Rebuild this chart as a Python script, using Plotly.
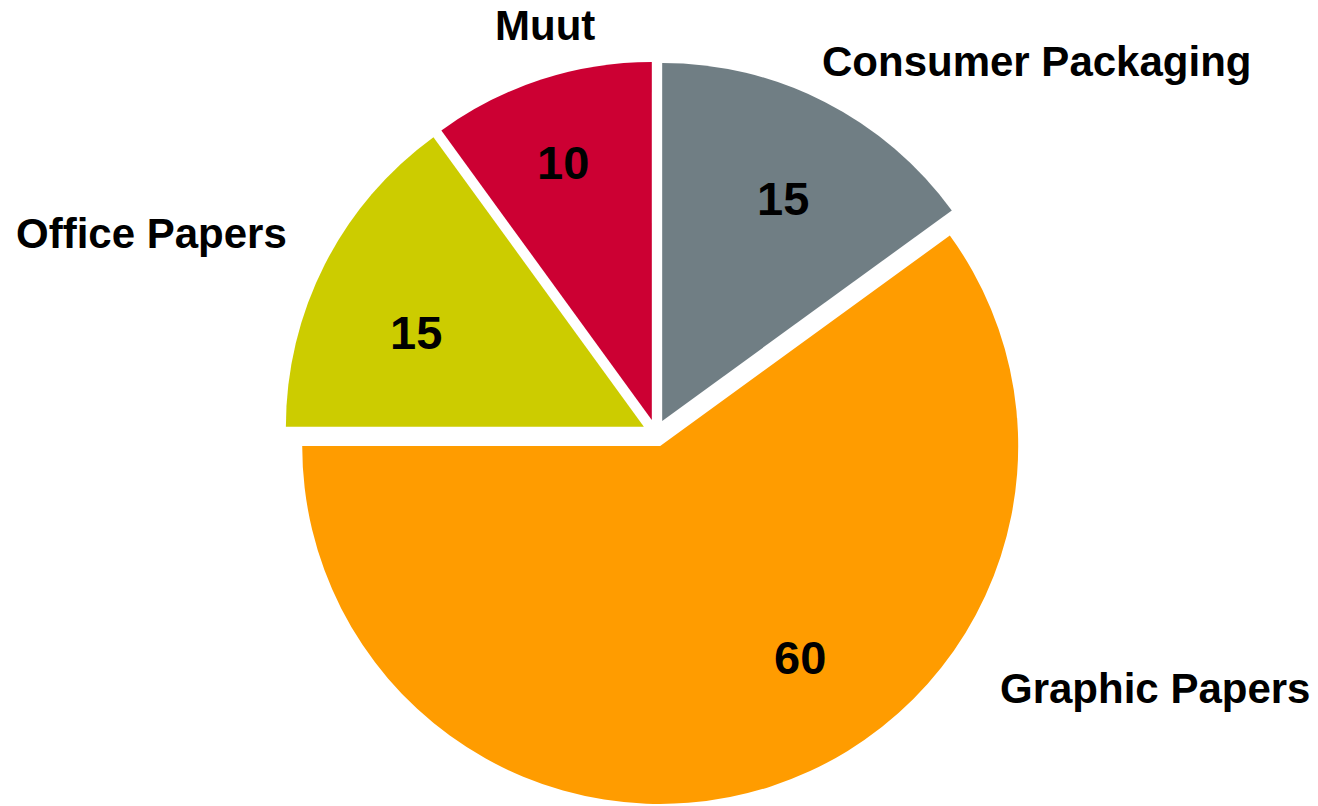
import plotly.graph_objects as go

categories = ["Consumer Packaging", "Graphic Papers", "Office Papers", "Muut"]
values = [15, 60, 15, 10]
colors = ["#707E84", "#FF9C00", "#CCCC00", "#CC0033"]

W, H = 1318, 806

# label / value anchor positions in pixels (layout only)
label_pos = {
    "Consumer Packaging": (1036, 62),
    "Graphic Papers": (1155, 688),
    "Office Papers": (151, 233),
    "Muut": (545, 25),
}
value_pos = {
    "Consumer Packaging": (783, 198),
    "Graphic Papers": (800, 657),
    "Office Papers": (416, 332),
    "Muut": (563, 162),
}

pull = 0.038
cx, cy, R = 656, 433, 358
half = R * (1 + pull)


def px_to_paper(x, y):
    return x / W, 1 - y / H


x0, y1 = px_to_paper(cx - half, cy - half)
x1, y0 = px_to_paper(cx + half, cy + half)

fig = go.Figure(go.Pie(
    labels=categories,
    values=values,
    sort=False,
    direction="clockwise",
    rotation=0,
    pull=[pull] * len(values),
    marker=dict(colors=colors, line=dict(width=0)),
    textinfo="none",
    domain=dict(x=[x0, x1], y=[y0, y1]),
    showlegend=False,
    hoverinfo="label+value",
))

font_family = "Liberation Sans, Arial, sans-serif"
for name, val in zip(categories, values):
    lx, ly = px_to_paper(*label_pos[name])
    fig.add_annotation(
        x=lx, y=ly, xref="paper", yref="paper",
        text=f"<b>{name}</b>", showarrow=False,
        font=dict(family=font_family, size=42, color="black"),
        xanchor="center", yanchor="middle",
        borderpad=0,
    )
    vx, vy = px_to_paper(*value_pos[name])
    fig.add_annotation(
        x=vx, y=vy, xref="paper", yref="paper",
        text=f"<b>{val}</b>", showarrow=False,
        font=dict(family=font_family, size=47, color="black"),
        xanchor="center", yanchor="middle",
    )

fig.update_layout(
    width=W, height=H,
    margin=dict(l=0, r=0, t=0, b=0),
    paper_bgcolor="white", plot_bgcolor="white",
)

fig.write_html(
    "out.html",
    config={"displayModeBar": False},
    post_script="document.body.style.margin='0';",
)
